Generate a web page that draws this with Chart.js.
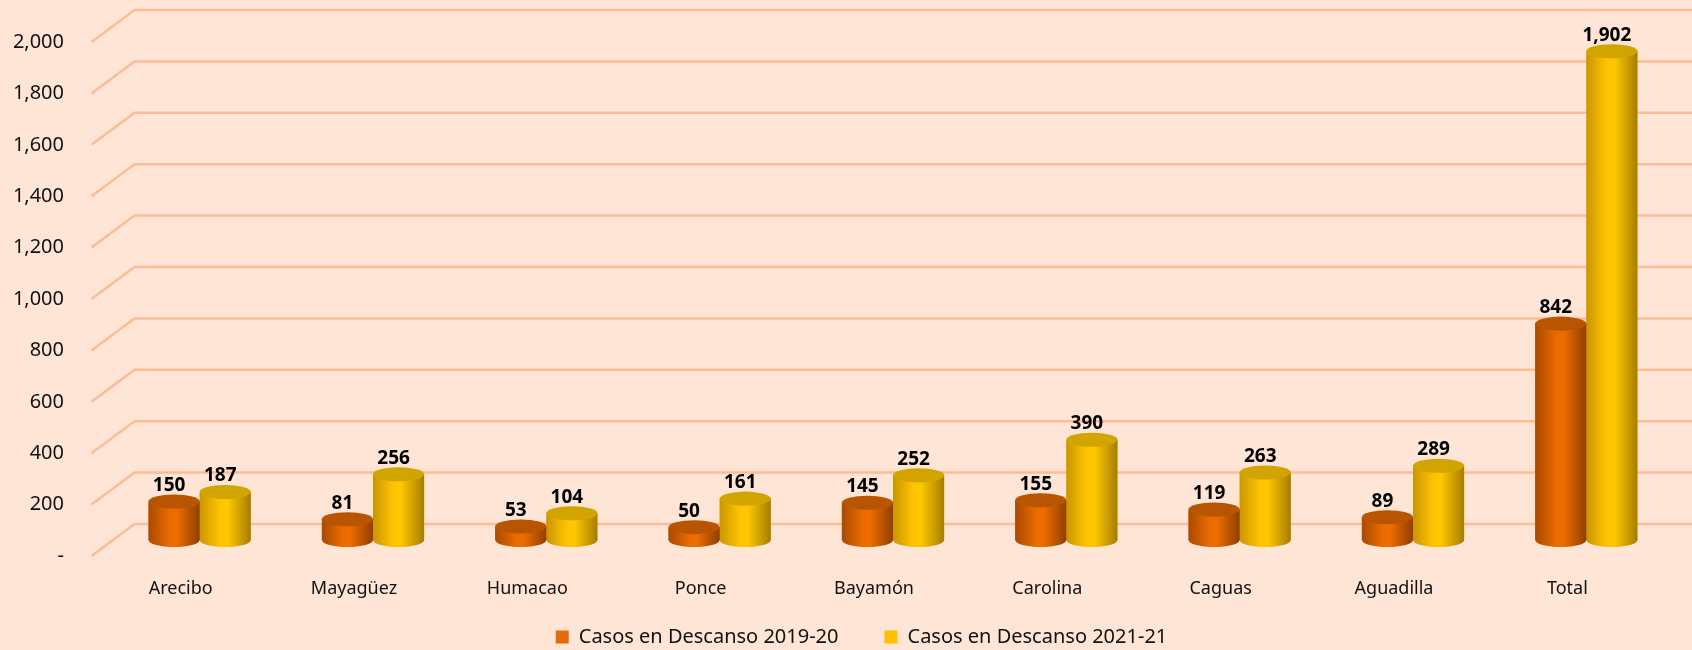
<!DOCTYPE html>
<html>
<head>
<meta charset="utf-8">
<script src="https://cdn.jsdelivr.net/npm/chart.js@4/dist/chart.umd.min.js"></script>
<style>
  html, body { margin: 0; padding: 0; background: #fee5d6; }
  #wrap { width: 1692px; height: 650px; }
</style>
</head>
<body>
<div id="wrap"><canvas id="chart" width="1692" height="650"></canvas></div>
<script>
// Data
const regiones = ['Arecibo', 'Mayagüez', 'Humacao', 'Ponce', 'Bayamón', 'Carolina', 'Caguas', 'Aguadilla', 'Total'];
const casos2019 = [150, 81, 53, 50, 145, 155, 119, 89, 842];
const casos2021 = [187, 256, 104, 161, 252, 390, 263, 289, 1902];
const serieNombres = ['Casos en Descanso 2019-20', 'Casos en Descanso 2021-21'];
const yTicks = [0, 200, 400, 600, 800, 1000, 1200, 1400, 1600, 1800, 2000];

// 3D-look constants (depth of the back wall in px)
const DX = 21.5;
const DY = 16;
const RY = 7;
const gridColor = '#fcbd96';
const fontFam = '"Noto Sans", "DejaVu Sans", sans-serif';
const legendPad = 46;
const legendFont = 20;
const legendCenterY = 637;
const legendShiftX = 25;

// Colours for the cylinders: [left edge, center, right edge, top]
const estilos = [
    { base: '#e36c09', stops: ['#a84a00', '#ea6a00', '#ee6d00', '#8f3f00'], top: '#b95400' },
    { base: '#ffc000', stops: ['#c99600', '#ffc400', '#ffc800', '#a57c00'], top: '#d2a400' }
];

function fmt(v) {
    return v === 0 ? '-' : v.toLocaleString('en-US');
}

// Back wall: diagonal from front plane to back plane, then horizontal line
const wallPlugin = {
    id: 'wall',
    afterLayout(chart) {
        // legend sits a bit lower (and further right) than chart.js would put it
        const lg = chart.legend;
        const h = legendPad + legendFont + 10;
        lg.top = legendCenterY - legendPad - legendFont / 2;
        lg.bottom = lg.top + h;
        lg.height = h;
        lg.left += legendShiftX;
        lg.right += legendShiftX;
    },
    beforeDatasetsDraw(chart) {
        const { ctx, chartArea, scales } = chart;
        const y = scales.y;
        ctx.save();
        ctx.strokeStyle = gridColor;
        ctx.lineWidth = 2.5;
        y.ticks.forEach(function(t) {
            const py = y.getPixelForValue(t.value);
            ctx.beginPath();
            ctx.moveTo(chartArea.left - DX, py + DY);
            ctx.lineTo(chartArea.left + DX, py - DY);
            ctx.lineTo(chart.width, py - DY);
            ctx.stroke();
        });
        ctx.restore();
    }
};

// Turn each flat bar into a shaded cylinder
const cylinderPlugin = {
    id: 'cylinder',
    afterDatasetDraw(chart, args) {
        const ctx = chart.ctx;
        const est = estilos[args.index];
        const meta = args.meta;
        ctx.save();
        meta.data.forEach(function(el) {
            const w = el.width;
            const left = el.x - w / 2;
            const g = ctx.createLinearGradient(left, 0, left + w, 0);
            g.addColorStop(0, est.stops[0]);
            g.addColorStop(0.4, est.stops[1]);
            g.addColorStop(0.55, est.stops[2]);
            g.addColorStop(1, est.stops[3]);
            ctx.fillStyle = g;
            // bottom rounded end
            ctx.beginPath();
            ctx.ellipse(el.x, el.base, w / 2, RY, 0, 0, Math.PI * 2);
            ctx.fill();
            // body
            ctx.fillRect(left, el.y, w, el.base - el.y);
            // top cap
            ctx.fillStyle = est.top;
            ctx.beginPath();
            ctx.ellipse(el.x, el.y, w / 2, RY, 0, 0, Math.PI * 2);
            ctx.fill();
        });
        ctx.restore();
    },
    afterDatasetsDraw(chart) {
        const ctx = chart.ctx;
        ctx.save();
        ctx.font = 'bold 19px ' + fontFam;
        ctx.fillStyle = '#000';
        ctx.textAlign = 'center';
        ctx.textBaseline = 'middle';
        chart.data.datasets.forEach(function(ds, i) {
            chart.getDatasetMeta(i).data.forEach(function(el, j) {
                ctx.fillText(fmt(ds.data[j]), el.x - 5, el.y - 16);
            });
        });
        ctx.restore();
    }
};

const chart = new Chart(document.getElementById('chart'), {
    type: 'bar',
    data: {
        labels: regiones,
        datasets: [
            { label: serieNombres[0], data: casos2019, backgroundColor: estilos[0].base, borderWidth: 0 },
            { label: serieNombres[1], data: casos2021, backgroundColor: estilos[1].base, borderWidth: 0 }
        ]
    },
    options: {
        responsive: false,
        animation: false,
        layout: { padding: { top: 26, right: 19, left: 0, bottom: 0 } },
        datasets: { bar: { categoryPercentage: 0.59, barPercentage: 1 } },
        plugins: {
            tooltip: { enabled: false },
            legend: {
                position: 'bottom',
                maxHeight: 50,
                labels: {
                    boxWidth: 13,
                    boxHeight: 13,
                    padding: legendPad,
                    color: '#111',
                    font: { size: legendFont, family: fontFam }
                }
            }
        },
        scales: {
            x: {
                grid: { display: false },
                border: { display: false },
                ticks: {
                    labelOffset: -19,
                    padding: 30,
                    color: '#111',
                    font: { size: 18, family: fontFam }
                },
                afterFit: function(scale) {
                    scale.height = 60;
                    scale.paddingLeft = 0;
                    scale.paddingRight = 0;
                }
            },
            y: {
                min: 0,
                max: 2000,
                grid: { display: false, drawTicks: false },
                border: { display: false },
                afterBuildTicks: function(scale) {
                    scale.ticks = yTicks.map(function(v) { return { value: v }; });
                },
                ticks: {
                    labelOffset: 16,
                    padding: 49,
                    color: '#111',
                    font: { size: 20, family: fontFam },
                    callback: function(v) { return fmt(v); }
                },
                afterFit: function(scale) {
                    scale.width = 113;
                    scale.paddingTop = 0;
                    scale.paddingBottom = 0;
                }
            }
        }
    },
    plugins: [wallPlugin, cylinderPlugin]
});
</script>
</body>
</html>
